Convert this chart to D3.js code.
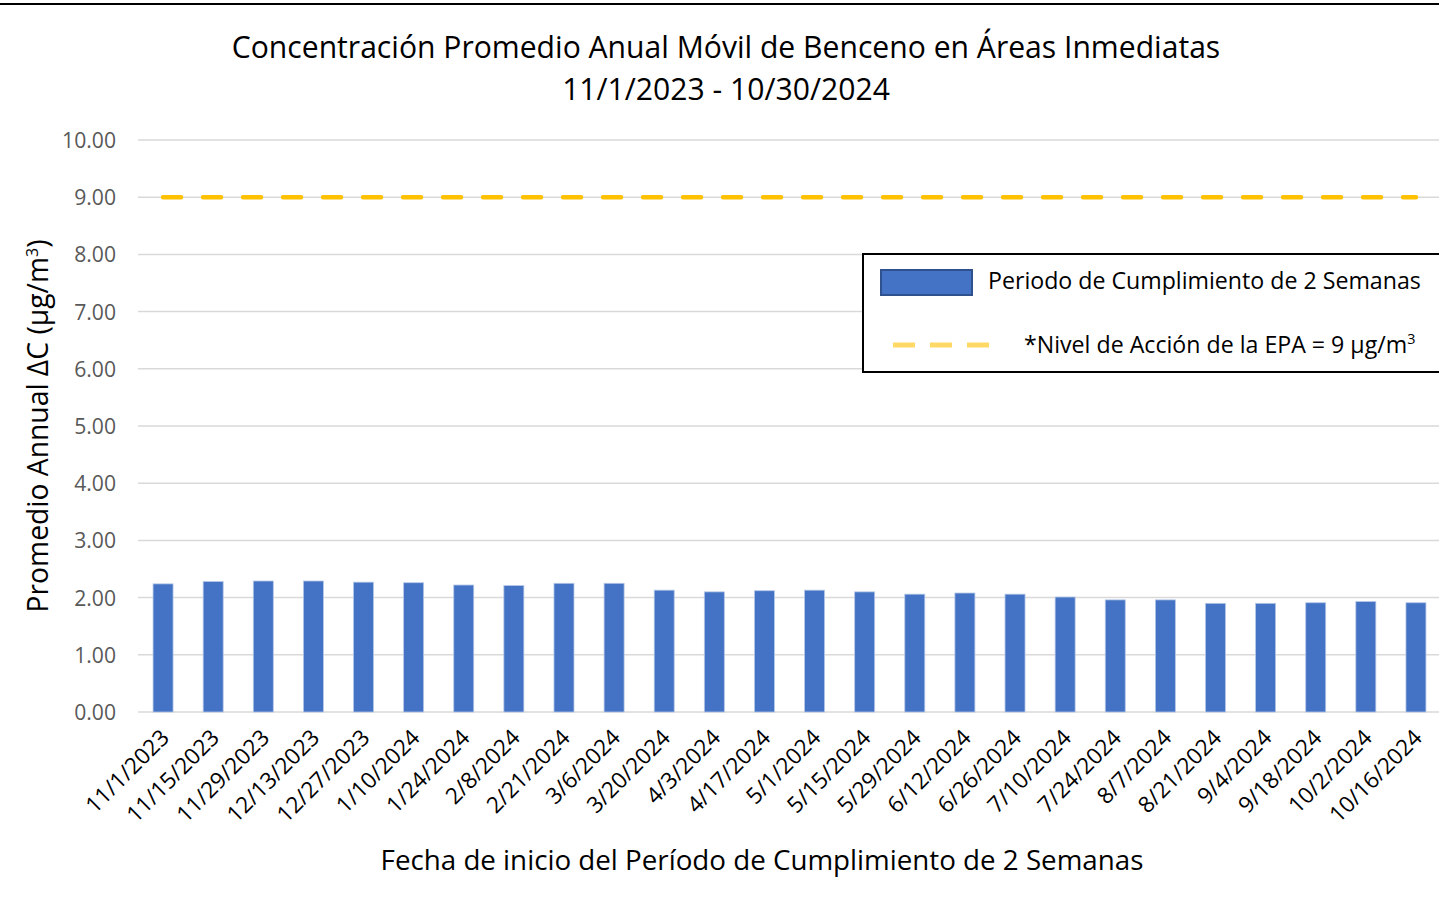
<!DOCTYPE html>
<html>
<head>
<meta charset="utf-8">
<script src="https://cdn.jsdelivr.net/npm/d3@7"></script>
<style>
  html, body { margin: 0; padding: 0; background: #fff; }
  svg { display: block; }
  text { font-family: "Open Sans", Lato, sans-serif; }
</style>
</head>
<body>
<svg id="chart" width="1439" height="915"></svg>
<script>
const categories = ["11/1/2023","11/15/2023","11/29/2023","12/13/2023","12/27/2023","1/10/2024","1/24/2024","2/8/2024","2/21/2024","3/6/2024","3/20/2024","4/3/2024","4/17/2024","5/1/2024","5/15/2024","5/29/2024","6/12/2024","6/26/2024","7/10/2024","7/24/2024","8/7/2024","8/21/2024","9/4/2024","9/18/2024","10/2/2024","10/16/2024"];
const values = [2.24,2.28,2.29,2.29,2.27,2.26,2.22,2.21,2.25,2.25,2.13,2.10,2.12,2.13,2.10,2.06,2.08,2.06,2.01,1.96,1.96,1.90,1.90,1.91,1.93,1.91];
const actionLevel = [9,9,9,9,9,9,9,9,9,9,9,9,9,9,9,9,9,9,9,9,9,9,9,9,9,9];
const yTicks = [0,1,2,3,4,5,6,7,8,9,10];
const titleLines = ["Concentración Promedio Anual Móvil de Benceno en Áreas Inmediatas","11/1/2023 - 10/30/2024"];
const legendLabels = ["Periodo de Cumplimiento de 2 Semanas","*Nivel de Acción de la EPA = 9 µg/m"];

const svg = d3.select("#chart");
const pLeft = 138, pRight = 1441, pTop = 140, pBottom = 712;

// scale a text's font-size so that its width matches the reference
function fit(sel, target) {
  const w = sel.node().getBBox().width;
  const fs = parseFloat(sel.attr("font-size"));
  const nf = fs * target / w;
  sel.attr("font-size", nf);
  return nf;
}

const xc = d3.scalePoint().domain(categories).range([pLeft, pRight]).padding(0.5);
const y = d3.scaleLinear().domain([0, 10]).range([pBottom, pTop]);

// top border
svg.append("line").attr("x1",0).attr("x2",1439).attr("y1",4).attr("y2",4).attr("stroke","#000").attr("stroke-width",2);

// gridlines
svg.append("g").selectAll("line").data(yTicks).join("line")
  .attr("x1", pLeft).attr("x2", 1439)
  .attr("y1", d => y(d)).attr("y2", d => y(d))
  .attr("stroke", "#D9D9D9").attr("stroke-width", 1.5);

// y axis labels
const yAxis = d3.axisLeft(y).tickValues(yTicks).tickFormat(d3.format(".2f")).tickSize(0).tickPadding(0);
const gy = svg.append("g").attr("transform", `translate(116,0)`).call(yAxis);
gy.select(".domain").remove();
gy.selectAll("text").attr("font-size", 19).attr("fill", "#595959").attr("font-family","'Open Sans', sans-serif").attr("dy","0.35em");
{
  const t = gy.selectAll("text").filter(d => d === 10);
  const nf = fit(t, 54);
  gy.selectAll("text").attr("font-size", nf);
}

// bars
svg.append("g").selectAll("rect").data(values).join("rect")
  .attr("x", (d,i) => xc(categories[i]) - 10)
  .attr("width", 20)
  .attr("y", d => y(d))
  .attr("height", d => y(0) - y(d))
  .attr("fill", "#4472C4")
  .attr("stroke", "#B4C7E7").attr("stroke-width", 0.8);

// action level line
const line = d3.line().x((d,i) => xc(categories[i])).y(d => y(d));
svg.append("path").datum(actionLevel)
  .attr("d", line)
  .attr("fill","none")
  .attr("stroke","#FFC000").attr("stroke-width",4.5)
  .attr("stroke-dasharray","18 22").attr("stroke-linecap","round");

// x axis labels
const xAxis = d3.axisBottom(xc).tickSize(0).tickPadding(0);
const gx = svg.append("g").attr("transform", `translate(0,${pBottom})`).call(xAxis);
gx.select(".domain").remove();
gx.selectAll("text")
  .attr("font-size", 19).attr("fill", "#000").attr("font-family","'Open Sans', sans-serif")
  .attr("text-anchor","end")
  .attr("dy", null).attr("y", null);
{
  const t = gx.selectAll("text").filter(d => d === "10/16/2024");
  const nf = fit(t, 120);
  gx.selectAll("text").attr("font-size", nf);
}
gx.selectAll("text").attr("transform","translate(7,27) rotate(-45)");

// title
const titles = svg.append("g").selectAll("text").data(titleLines).join("text")
  .attr("x", 726).attr("y", (d,i) => 58 + i*42)
  .attr("text-anchor","middle").attr("font-size", 28).attr("fill","#000")
  .text(d => d);
{
  const t = titles.filter((d,i) => i === 0);
  const nf = fit(t, 989);
  titles.attr("font-size", nf);
}

// axis titles
const yl = svg.append("text")
  .attr("transform","translate(48,426) rotate(-90)")
  .attr("text-anchor","middle").attr("font-size",24).attr("fill","#000");
yl.append("tspan").text("Promedio Annual ΔC (µg/m");
yl.append("tspan").attr("font-size",16).attr("dy",-10).text("3");
yl.append("tspan").attr("dy",10).text(")");
fit(yl, 375);

const xl = svg.append("text").attr("x", 762).attr("y", 870).attr("text-anchor","middle")
  .attr("font-size",24).attr("fill","#000")
  .text("Fecha de inicio del Período de Cumplimiento de 2 Semanas");
fit(xl, 763);

// legend
const lg = svg.append("g");
lg.append("rect").attr("x",863).attr("y",254).attr("width",590).attr("height",118)
  .attr("fill","#fff").attr("stroke","#000").attr("stroke-width",2);
lg.append("rect").attr("x",881).attr("y",270).attr("width",91).attr("height",25)
  .attr("fill","#4472C4").attr("stroke","#2F528F").attr("stroke-width",2);
const t1 = lg.append("text").attr("x",988).attr("y",289).attr("font-size",22).attr("fill","#000").text(legendLabels[0]);
const lf = fit(t1, 433);
lg.append("line").attr("x1",893).attr("x2",998).attr("y1",345).attr("y2",345)
  .attr("stroke","#FFD966").attr("stroke-width",5).attr("stroke-dasharray","22 15");
const t2 = lg.append("text").attr("x",1024).attr("y",353).attr("font-size",lf).attr("fill","#000");
t2.append("tspan").text(legendLabels[1]);
t2.append("tspan").attr("font-size",lf*0.62).attr("dy",-9).text("3");
</script>
</body>
</html>
